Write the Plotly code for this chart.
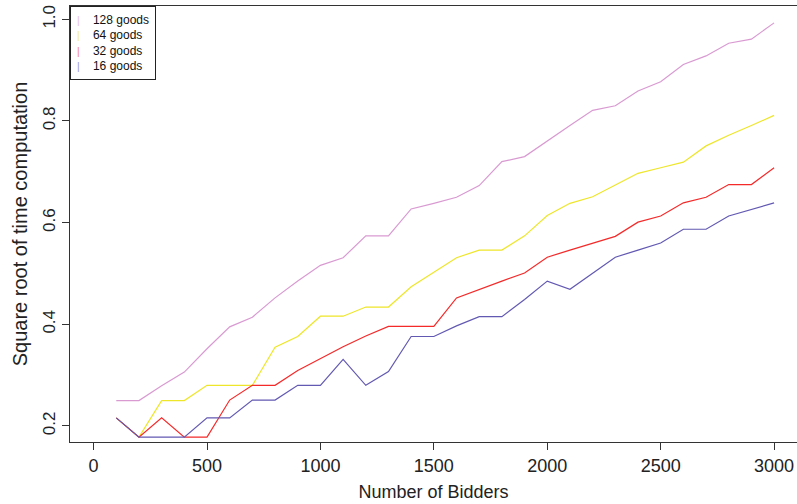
import plotly.graph_objects as go

bidders = [100, 200, 300, 400, 500, 600, 700, 800, 900, 1000,
           1100, 1200, 1300, 1400, 1500, 1600, 1700, 1800, 1900, 2000,
           2100, 2200, 2300, 2400, 2500, 2600, 2700, 2800, 2900, 3000]

goods_128 = [0.250, 0.250, 0.279, 0.306, 0.352, 0.395, 0.414, 0.452, 0.485, 0.516,
             0.531, 0.574, 0.574, 0.627, 0.638, 0.650, 0.673, 0.720, 0.730, 0.761,
             0.791, 0.821, 0.830, 0.859, 0.877, 0.911, 0.928, 0.953, 0.961, 0.993]
goods_64 = [0.216, 0.178, 0.250, 0.250, 0.280, 0.280, 0.280, 0.355, 0.376, 0.416,
            0.416, 0.434, 0.434, 0.474, 0.502, 0.531, 0.546, 0.546, 0.574, 0.614,
            0.638, 0.651, 0.674, 0.697, 0.708, 0.719, 0.751, 0.772, 0.791, 0.811]
goods_32 = [0.216, 0.178, 0.216, 0.178, 0.178, 0.251, 0.280, 0.280, 0.309, 0.333,
            0.356, 0.377, 0.396, 0.396, 0.396, 0.452, 0.469, 0.485, 0.501, 0.532,
            0.546, 0.560, 0.573, 0.601, 0.613, 0.639, 0.650, 0.675, 0.675, 0.708]
goods_16 = [0.216, 0.178, 0.178, 0.178, 0.216, 0.216, 0.251, 0.251, 0.280, 0.280,
            0.331, 0.280, 0.307, 0.376, 0.376, 0.397, 0.415, 0.415, 0.449, 0.485,
            0.469, 0.500, 0.532, 0.546, 0.560, 0.587, 0.587, 0.613, 0.626, 0.639]

series_names = ["128 goods", "64 goods", "32 goods", "16 goods"]
series_values = [goods_128, goods_64, goods_32, goods_16]
series_colors = ["#D99AD2", "#EEE62A", "#F42A2A", "#6259B2"]
legend_colors = ["#E8BCE2", "#F2EC70", "#F47878", "#9C96CC"]

x_ticks = [0, 500, 1000, 1500, 2000, 2500, 3000]
y_ticks = [0.2, 0.4, 0.6, 0.8, 1.0]
y_tick_labels = ["0.2", "0.4", "0.6", "0.8", "1.0"]

FONT = "Liberation Sans, Arial, Helvetica, sans-serif"

fig = go.Figure()
# drawn in legend order, so 16 goods ends up on top
for name, vals, col in zip(series_names, series_values, series_colors):
    fig.add_trace(go.Scatter(x=bidders, y=vals, mode="lines", name=name,
                             line=dict(color=col, width=1.2), showlegend=False))

legend_lines = [
    f"<span style='color:{col};font-size:10px'>|</span>&nbsp;&nbsp;&nbsp;&nbsp;{name}"
    for name, col in zip(series_names, legend_colors)
]
fig.add_annotation(
    xref="paper", yref="paper", x=0, y=1, xanchor="left", yanchor="top",
    text="<br>".join(legend_lines), showarrow=False, align="left",
    font=dict(family=FONT, size=12, color="#111111"),
    bordercolor="#222222", borderwidth=1, borderpad=6, bgcolor="white",
    width=72, height=60,
)

axis_common = dict(
    showgrid=False, zeroline=False, showline=True, linecolor="#333333", linewidth=1,
    ticks="outside", ticklen=7, tickcolor="#333333", tickwidth=1,
)

fig.update_layout(
    width=797, height=504,
    margin=dict(l=70, r=0, t=6, b=62),
    paper_bgcolor="white", plot_bgcolor="white",
    font=dict(family=FONT, size=18, color="#222222"),
    xaxis=dict(range=[-104, 3101], tickvals=x_ticks, mirror=True,
               tickfont=dict(family=FONT, size=18, color="#222222"),
               title=dict(text="Number of Bidders", font=dict(family=FONT, size=18), standoff=10),
               **axis_common),
    yaxis=dict(range=[0.1685, 1.0262], tickvals=y_ticks, ticktext=y_tick_labels,
               tickangle=-90, mirror=False,
               tickfont=dict(family=FONT, size=17, color="#222222"),
               title=dict(text="Square root of time computation", font=dict(family=FONT, size=20), standoff=7),
               **axis_common),
)

fig.write_html("out.html", config={"displayModeBar": False},
               post_script="document.body.style.margin='0';document.body.style.padding='0';")
